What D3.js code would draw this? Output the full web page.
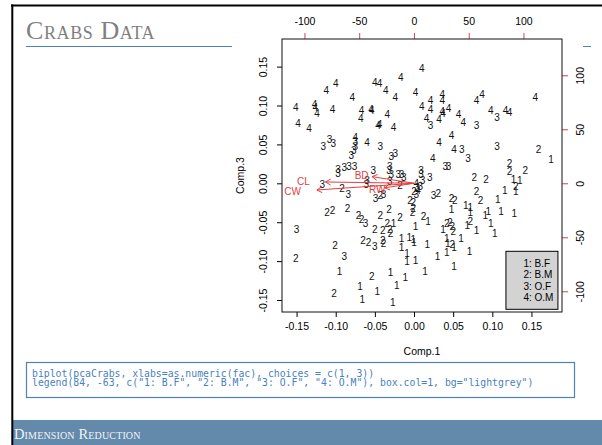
<!DOCTYPE html>
<html>
<head>
<meta charset="utf-8">
<script src="https://cdn.jsdelivr.net/npm/d3@7"></script>
<style>
  body { margin: 0; background: #fff; }
  svg { display: block; }
</style>
</head>
<body>
<svg id="slide" width="602" height="445"></svg>
<script>
// scores: [Comp.1, Comp.3, group]
var crabScores = [
  [0.010,0.148,4],[-0.017,0.136,4],[-0.100,0.129,4],[-0.112,0.120,4],[-0.050,0.130,4],[-0.044,0.129,4],
  [-0.036,0.120,4],[-0.024,0.111,4],[-0.079,0.111,4],[0.002,0.117,4],[0.036,0.114,4],[0.036,0.106,4],
  [0.021,0.106,4],[0.087,0.114,4],[0.080,0.107,4],[0.155,0.111,4],[-0.151,0.098,4],[-0.127,0.101,4],
  [-0.126,0.098,4],[-0.124,0.090,4],[-0.104,0.095,4],[-0.067,0.094,4],[-0.055,0.095,4],[-0.054,0.094,4],
  [-0.034,0.089,4],[-0.068,0.083,4],[0.010,0.099,4],[0.021,0.095,4],[0.036,0.092,4],[0.037,0.090,4],
  [0.044,0.096,4],[0.057,0.088,4],[0.063,0.078,4],[0.080,0.075,3],[0.098,0.094,4],[0.106,0.085,3],
  [0.117,0.094,4],[0.122,0.091,4],[0.016,0.083,4],[0.021,0.074,3],[0.032,0.082,4],[-0.148,0.077,4],
  [-0.134,0.071,4],[-0.046,0.074,4],[-0.044,0.076,4],[-0.026,0.072,4],[-0.075,0.059,4],[-0.075,0.054,3],
  [-0.075,0.048,3],[-0.060,0.052,4],[-0.043,0.047,3],[-0.116,0.048,3],[-0.108,0.057,3],[-0.103,0.051,3],
  [0.048,0.061,4],[0.032,0.053,4],[0.051,0.043,4],[0.061,0.043,3],[0.106,0.048,3],[0.159,0.043,2],
  [-0.077,0.042,3],[-0.080,0.036,3],[-0.029,0.035,3],[-0.024,0.038,3],[0.069,0.032,3],[0.024,0.032,4],
  [0.040,0.022,3],[0.044,0.022,3],[0.175,0.031,1],[0.122,0.025,2],[0.122,0.015,2],[0.142,0.016,2],
  [0.127,0.005,1],[0.135,0.004,1],[0.130,-0.004,2],[0.116,-0.009,1],[0.130,-0.011,1],[0.077,0.007,2],
  [0.092,0.005,2],[0.080,-0.011,2],[0.085,-0.022,2],[0.107,-0.021,1],[0.066,-0.029,1],[0.072,-0.031,1],
  [0.072,-0.037,1],[0.095,-0.036,1],[0.091,-0.041,1],[0.111,-0.036,1],[0.128,-0.039,1],[0.048,-0.019,2],
  [0.052,-0.022,2],[0.048,-0.033,1],[0.025,-0.015,3],[0.031,-0.013,2],[0.020,0.008,3],[0.009,0.016,3],
  [0.009,0.011,3],[0.011,0.004,3],[0.003,0.000,4],[0.004,-0.005,3],[0.005,-0.009,4],[0.003,-0.014,3],
  [0.008,-0.004,3],[0.000,-0.010,2],[-0.016,0.011,3],[-0.013,0.008,3],[-0.029,0.011,3],[-0.020,0.011,3],
  [-0.031,0.022,3],[-0.032,0.016,3],[-0.052,0.016,3],[-0.060,0.004,3],[-0.061,-0.002,3],[-0.031,0.002,3],
  [-0.018,-0.003,2],[-0.049,-0.019,3],[-0.043,-0.015,2],[-0.039,-0.014,3],[-0.097,0.018,3],[-0.097,0.013,3],
  [-0.089,0.020,3],[-0.083,0.022,3],[-0.076,0.022,3],[-0.117,-0.002,3],[-0.092,-0.007,2],[-0.084,-0.014,3],
  [-0.111,-0.038,2],[-0.104,-0.035,2],[-0.085,-0.032,2],[-0.071,-0.041,2],[-0.067,-0.047,2],[-0.062,-0.051,3],
  [-0.043,-0.041,2],[-0.032,-0.033,2],[-0.018,-0.044,2],[-0.050,-0.059,2],[-0.040,-0.061,2],[-0.031,-0.059,2],
  [-0.034,-0.051,2],[-0.026,-0.052,1],[-0.030,-0.064,2],[0.002,-0.055,1],[0.012,-0.042,2],[0.018,-0.049,1],
  [-0.001,-0.032,2],[-0.002,-0.037,2],[-0.005,-0.022,2],[-0.001,-0.024,2],[-0.065,-0.073,2],[-0.058,-0.076,2],
  [-0.050,-0.081,3],[-0.040,-0.073,2],[-0.039,-0.077,2],[-0.016,-0.071,1],[-0.016,-0.082,1],[-0.006,-0.069,1],
  [-0.001,-0.072,1],[0.000,-0.076,1],[0.017,-0.078,1],[-0.009,-0.090,1],[-0.009,-0.101,1],[0.002,-0.099,1],
  [0.030,-0.094,1],[0.042,-0.089,1],[0.043,-0.077,1],[0.049,-0.078,2],[0.051,-0.082,1],[0.042,-0.071,1],
  [0.060,-0.071,1],[0.050,-0.062,2],[0.037,-0.059,1],[0.042,-0.052,2],[0.046,-0.050,2],[0.049,-0.056,2],
  [0.072,-0.049,2],[0.068,-0.054,1],[0.080,-0.060,1],[0.098,-0.051,1],[0.103,-0.065,1],[0.071,-0.088,1],
  [0.051,-0.107,1],[0.014,-0.113,1],[-0.030,-0.115,1],[-0.011,-0.121,1],[-0.022,-0.131,1],[-0.054,-0.120,2],
  [-0.069,-0.132,1],[-0.066,-0.149,1],[-0.047,-0.139,1],[-0.027,-0.153,1],[-0.102,-0.141,2],[-0.095,-0.113,1],
  [-0.089,-0.094,3],[-0.101,-0.080,2],[-0.150,-0.059,3],[-0.151,-0.096,2]
];

// loadings (secondary axes units), label sits at full length, arrow at 0.8
var varNames = ['CL', 'CW', 'BD', 'RW'];
var varComp1 = [-101, -110.8, -47.8, -33.5];
var varComp3 = [1.5, -7.8, 7.7, -5.3];

var bottomTicks = [-0.15, -0.10, -0.05, 0.00, 0.05, 0.10, 0.15];
var leftTicks = [-0.15, -0.10, -0.05, 0.00, 0.05, 0.10, 0.15];
var topTicks = [-100, -50, 0, 50, 100];
var rightTicks = [-100, -50, 0, 50, 100];

var legendLabels = ['1: B.F', '2: B.M', '3: O.F', '4: O.M'];
var legendAt = [84, -63];

var codeLines = [
  'biplot(pcaCrabs, xlabs=as.numeric(fac), choices = c(1, 3))',
  'legend(84, -63, c("1: B.F", "2: B.M", "3: O.F", "4: O.M"), box.col=1, bg="lightgrey")'
];

var red = '#e0403f';
var blue = '#4f81bd';
var sans = '"Liberation Sans", Arial, sans-serif';
var serif = '"Liberation Serif", "Times New Roman", serif';

var svg = d3.select('#slide');

// ---- slide chrome ----
svg.append('line')
  .attr('x1', 26).attr('x2', 591).attr('y1', 46.5).attr('y2', 46.5)
  .attr('stroke', blue).attr('stroke-width', 1);
svg.append('text')
  .attr('x', 26).attr('y', 39)
  .attr('font-family', serif).attr('font-size', 26)
  .attr('font-variant', 'small-caps')
  .attr('letter-spacing', 0.6)
  .attr('fill', '#7f7f7f')
  .text('Crabs Data');

svg.append('rect')
  .attr('x', 13).attr('y', 420).attr('width', 589).attr('height', 25)
  .attr('fill', '#6389ab');
svg.append('text')
  .attr('x', 14).attr('y', 439)
  .attr('font-family', serif).attr('font-size', 14.5)
  .attr('font-variant', 'small-caps')
  .attr('letter-spacing', 0.15)
  .attr('fill', '#f4f4f4')
  .text('Dimension Reduction');

svg.append('rect')
  .attr('x', 26.5).attr('y', 362.5).attr('width', 548).attr('height', 35)
  .attr('fill', '#fff').attr('stroke', blue).attr('stroke-width', 1.2);
svg.append('g').selectAll('text')
  .data(codeLines)
  .enter().append('text')
  .attr('x', 32)
  .attr('y', function(d, i) { return 377 + i * 8.8; })
  .attr('font-family', '"DejaVu Sans Mono", "Liberation Mono", monospace')
  .attr('font-size', 9.8)
  .attr('fill', '#4a7fc0')
  .attr('xml:space', 'preserve')
  .text(function(d) { return d; });

svg.append('line')
  .attr('x1', 11).attr('x2', 602).attr('y1', 5.5).attr('y2', 5.5)
  .attr('stroke', '#000').attr('stroke-width', 1.8);
svg.append('line')
  .attr('x1', 12.3).attr('x2', 12.3).attr('y1', 4.6).attr('y2', 445)
  .attr('stroke', '#000').attr('stroke-width', 2);

// ---- the plot picture ----
svg.append('rect')
  .attr('x', 232).attr('y', 8).attr('width', 351).attr('height', 350)
  .attr('fill', '#fff');

var box = { left: 282, right: 562, top: 39, bottom: 312 };

var x = d3.scaleLinear().domain([-0.1686, 0.189]).range([box.left, box.right]);
var y = d3.scaleLinear().domain([-0.1654, 0.1855]).range([box.bottom, box.top]);
var xTop = d3.scaleLinear().domain([-120.5, 135.2]).range([box.left, box.right]);
var yRight = d3.scaleLinear().domain([-119.2, 133.6]).range([box.bottom, box.top]);

var plot = svg.append('g');

// R prints plain hyphens, not the unicode minus d3 uses
function fixed2(d) { return d.toFixed(2); }
function whole(d) { return String(d); }

function styleAxis(g, colour) {
  g.select('.domain').remove();
  g.selectAll('.tick line').attr('stroke', colour);
  g.selectAll('.tick text')
    .attr('fill', '#000')
    .attr('font-family', sans)
    .attr('font-size', 10.5);
}

var axisB = plot.append('g')
  .attr('transform', 'translate(0,' + box.bottom + ')')
  .call(d3.axisBottom(x).tickValues(bottomTicks).tickSize(5).tickPadding(6).tickFormat(fixed2));
styleAxis(axisB, '#000');

var axisL = plot.append('g')
  .attr('transform', 'translate(' + box.left + ',0)')
  .call(d3.axisLeft(y).tickValues(leftTicks).tickSize(5).tickFormat(fixed2));
styleAxis(axisL, '#000');
axisL.selectAll('.tick text')
  .attr('transform', 'rotate(-90)')
  .attr('x', 0).attr('y', -15).attr('dy', 0)
  .attr('text-anchor', 'middle');

var axisT = plot.append('g')
  .attr('transform', 'translate(0,' + box.top + ')')
  .call(d3.axisTop(xTop).tickValues(topTicks).tickSize(6).tickFormat(whole));
styleAxis(axisT, red);
axisT.selectAll('.tick text').attr('y', -14.5).attr('dy', 0);

var axisR = plot.append('g')
  .attr('transform', 'translate(' + box.right + ',0)')
  .call(d3.axisRight(yRight).tickValues(rightTicks).tickSize(6).tickFormat(whole));
styleAxis(axisR, red);
axisR.selectAll('.tick text')
  .attr('transform', 'rotate(-90)')
  .attr('x', 0).attr('y', 21.5).attr('dy', 0)
  .attr('text-anchor', 'middle');

plot.append('rect')
  .attr('x', box.left).attr('y', box.top)
  .attr('width', box.right - box.left).attr('height', box.bottom - box.top)
  .attr('fill', 'none').attr('stroke', '#111').attr('stroke-width', 1);

plot.append('text')
  .attr('x', (box.left + box.right) / 2).attr('y', 355)
  .attr('text-anchor', 'middle')
  .attr('font-family', sans).attr('font-size', 10.5)
  .text('Comp.1');
plot.append('text')
  .attr('transform', 'translate(244,' + (box.top + box.bottom) / 2 + ') rotate(-90)')
  .attr('text-anchor', 'middle')
  .attr('font-family', sans).attr('font-size', 10.5)
  .text('Comp.3');

// point labels
plot.append('g').selectAll('text')
  .data(crabScores)
  .enter().append('text')
  .attr('x', function(d) { return x(d[0]); })
  .attr('y', function(d) { return y(d[1]); })
  .attr('dy', '0.36em')
  .attr('text-anchor', 'middle')
  .attr('font-family', sans).attr('font-size', 10)
  .attr('fill', '#111')
  .text(function(d) { return d[2]; });

// loading arrows
var arrows = plot.append('g').attr('stroke', red).attr('fill', 'none').attr('stroke-width', 1);
var x0 = xTop(0), y0 = yRight(0);
varNames.forEach(function(name, i) {
  var ex = xTop(varComp1[i] * 0.8), ey = yRight(varComp3[i] * 0.8);
  var ang = Math.atan2(ey - y0, ex - x0);
  var headLen = 6;
  var spread = Math.PI / 6;
  arrows.append('line')
    .attr('x1', x0).attr('y1', y0).attr('x2', ex).attr('y2', ey);
  arrows.append('path')
    .attr('d', 'M' + (ex - headLen * Math.cos(ang - spread)) + ',' + (ey - headLen * Math.sin(ang - spread)) +
      'L' + ex + ',' + ey +
      'L' + (ex - headLen * Math.cos(ang + spread)) + ',' + (ey - headLen * Math.sin(ang + spread)));
});
plot.append('g').selectAll('text')
  .data(varNames)
  .enter().append('text')
  .attr('x', function(d, i) { return xTop(varComp1[i]); })
  .attr('y', function(d, i) { return yRight(varComp3[i]); })
  .attr('dy', '0.36em')
  .attr('text-anchor', 'middle')
  .attr('font-family', sans).attr('font-size', 10)
  .attr('fill', red)
  .text(function(d) { return d; });

// legend, placed in the secondary coordinates like legend(84, -63, ...)
var lx = xTop(legendAt[0]), ly = yRight(legendAt[1]);
var lineH = 11.6;
plot.append('rect')
  .attr('x', lx).attr('y', ly)
  .attr('width', 52).attr('height', lineH * (legendLabels.length + 1))
  .attr('fill', '#d3d3d3').attr('stroke', '#000').attr('stroke-width', 1);
plot.append('g').selectAll('text')
  .data(legendLabels)
  .enter().append('text')
  .attr('x', lx + 17.5)
  .attr('y', function(d, i) { return ly + lineH * (i + 1); })
  .attr('dy', '0.36em')
  .attr('font-family', sans).attr('font-size', 10)
  .text(function(d) { return d; });
</script>
</body>
</html>
